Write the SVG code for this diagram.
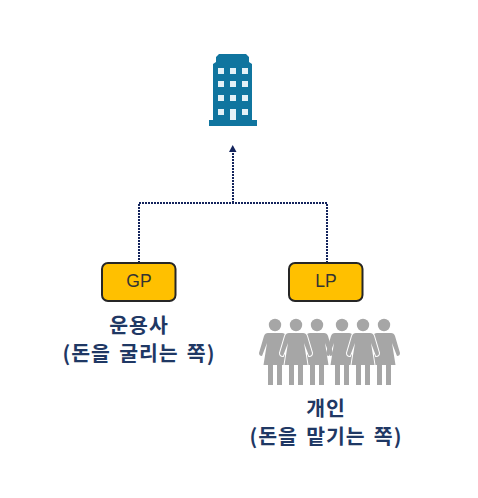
<svg xmlns="http://www.w3.org/2000/svg" width="478" height="498" viewBox="0 0 478 498">
<style>
.box{fill:#ffc000;stroke:#262626;stroke-width:2}
.t{font-family:"Liberation Sans","Noto Sans CJK KR",sans-serif;font-size:17.5px;fill:#333;text-anchor:middle}
.k{font-family:"Noto Sans CJK KR","Liberation Sans",sans-serif;font-size:20.500px;font-weight:700;fill:#1f3864;text-anchor:middle;letter-spacing:1px;word-spacing:2.500px}
.c{fill:none;stroke:#14245c;stroke-width:2;stroke-dasharray:2 1}
.w{fill:#e3f1f7}
.p{fill:#a6a6a6}
.f{stroke:#fff;stroke-width:2;paint-order:stroke}
</style>
<defs>
<g id="person">
<circle cx="0" cy="-28" r="6.200"/>
<path d="M-7-20H7Q10-20 11-17L16 0Q16 3 13 3L8-10L11.500 12H7V32H2V12H-2V32H-7V12H-11.500L-8-10L-13 3Q-16 3-16 0L-11-17Q-10-20-7-20Z"/>
</g>
</defs>
<g id="connectors">
<path class="c" d="M139 263V203H327V263"/>
<path class="c" d="M233 203V151"/>
<path d="M232.700 145L236.500 152H229Z" fill="#14245c"/>
</g>
<g id="building">
<path fill="#10759f" d="M209 126V120H213V64L216 62V57L219 54H246L249 57V62L252 64V120H257V126Z"/>
<g class="w">
<rect x="218" y="68" width="6" height="6"/><rect x="230" y="68" width="6" height="6"/><rect x="242" y="68" width="6" height="6"/>
<rect x="218" y="81" width="6" height="6"/><rect x="230" y="81" width="6" height="6"/><rect x="242" y="81" width="6" height="6"/>
<rect x="218" y="95" width="6" height="6"/><rect x="230" y="95" width="6" height="6"/><rect x="242" y="95" width="6" height="6"/>
<rect x="218" y="109" width="6" height="6"/><rect x="230" y="109" width="6" height="11"/><rect x="242" y="109" width="6" height="6"/>
</g>
</g>
<g id="gp">
<rect class="box" x="102" y="263" width="73.500" height="38" rx="6"/>
<text class="t" x="139" y="287">GP</text>
</g>
<g id="lp">
<rect class="box" x="289" y="263" width="73.500" height="38" rx="6"/>
<text class="t" x="326" y="287">LP</text>
</g>
<g id="gp-label">
<text class="k" x="139" y="333">운용사</text>
<text class="k" x="139" y="361">(돈을 굴리는 쪽)</text>
</g>
<g id="people" class="p">
<use href="#person" x="275" y="353"/>
<use href="#person" x="317" y="353"/>
<use href="#person" x="342" y="353"/>
<use href="#person" x="384" y="353"/>
<use class="f" href="#person" x="296" y="353"/>
<use class="f" href="#person" x="363" y="353"/>
</g>
<g id="lp-label">
<text class="k" x="326" y="416">개인</text>
<text class="k" x="326" y="444">(돈을 맡기는 쪽)</text>
</g>
</svg>
